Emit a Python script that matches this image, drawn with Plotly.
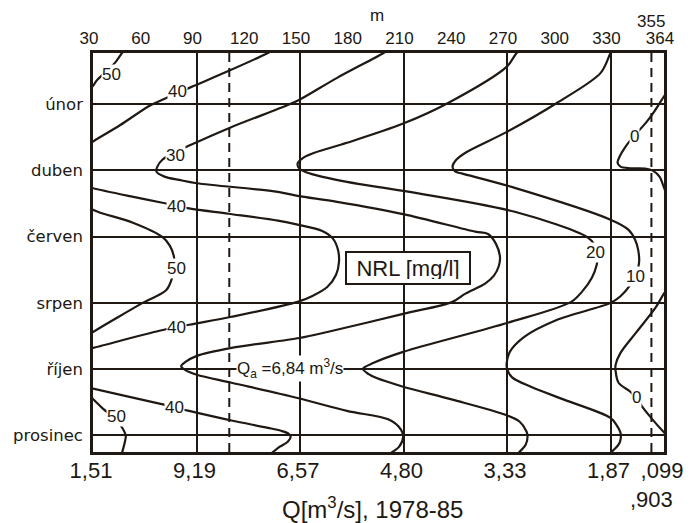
import numpy as np
import plotly.graph_objects as go

INK = "#201812"
NUM_FONT = "Liberation Sans, Arial, sans-serif"
WORD_FONT = "DejaVu Sans, sans-serif"

# ---- axis scale: m-day value -> axis position (last part of axis is compressed in the original)
X_ANCHOR_M = [0, 330, 355, 364, 400]
X_ANCHOR_POS = [0, 330, 353.7, 361.0, 390.2]


def xs(m):
    return np.interp(np.atleast_1d(np.asarray(m, float)), X_ANCHOR_M, X_ANCHOR_POS).tolist()


def x1(m):
    return xs([m])[0]


# ---- tick labels
TOP_TICK_M = [30, 60, 90, 120, 150, 180, 210, 240, 270, 300, 330, 364]
TOP_TICK_TEXT = ["30", "60", "90", "120", "150", "180", "210", "240", "270", "300", "330", "364"]
BOTTOM_TICK_M = [30, 90, 150, 210, 270, 330, 364]
BOTTOM_TICK_TEXT = ["1,51", "9,19", "6,57", "4,80", "3,33", "1,87", ",099"]
MONTH_POS = [2, 4, 6, 8, 10, 12]
MONTH_TEXT = ["únor", "duben", "červen", "srpen", "říjen", "prosinec"]
DASHED_M = [109, 355]

# ---- isolines NRL [mg/l]: month position and m-day value of each traced point
C50_TOP_MONTH = [0.36, 0.46, 0.72, 1.02, 1.27, 1.45, 1.60]
C50_TOP_M = [48.5, 46.8, 43.3, 37.6, 32.5, 30.0, 27.5]
C50_MID_MONTH = [5.13, 5.19, 5.28, 5.58, 6.01, 6.28, 6.58, 6.85, 7.22, 7.61, 8.00, 8.45, 8.88, 8.97]
C50_MID_M = [27.3, 30.0, 34.2, 53.1, 70.2, 74.6, 76.8, 77.3, 76.0, 72.5, 58.8, 43.9, 30.0, 27.3]
C50_LOW_MONTH = [10.80, 10.90, 11.20, 11.49, 11.80, 12.01, 12.19, 12.53]
C50_LOW_M = [27.3, 30.0, 35.9, 42.8, 47.3, 49.0, 48.5, 46.8]

C40_TOP_MONTH = [0.36, 0.46, 0.99, 1.49, 1.87, 2.05, 2.64, 3.13, 3.26]
C40_TOP_M = [134.9, 131.4, 109.1, 86.8, 70.2, 62.8, 45.6, 30.0, 26.2]
C40_MID_MONTH = [4.50, 4.54, 4.78, 4.98, 5.15, 5.31, 5.52, 5.64, 5.83, 6.07, 6.40, 6.76, 7.15,
                 7.52, 7.79, 7.97, 8.42, 8.66, 8.84, 9.36, 9.39]
C40_MID_M = [27.3, 30.0, 51.3, 70.2, 85.7, 108.6, 137.2, 148.6, 162.9, 169.2, 172.0, 172.6, 170.9,
             165.8, 157.2, 148.6, 110.3, 85.7, 68.5, 30.0, 27.3]
C40_LOW_MONTH = [10.56, 10.59, 11.04, 11.15, 11.26, 11.55, 11.77, 11.86, 11.95, 12.04, 12.19, 12.34, 12.55]
C40_LOW_M = [27.3, 30.0, 68.5, 77.1, 85.7, 110.3, 131.4, 139.0, 143.5, 144.6, 142.9, 138.3, 133.2]

C30_MONTH = [0.36, 0.46, 1.21, 1.87, 2.03, 2.72, 3.23, 3.44, 3.68, 3.89, 4.04, 4.19, 4.29, 4.39,
             4.65, 4.77, 4.95, 5.32, 5.85, 5.92, 6.22, 6.61, 6.88, 7.18, 7.42, 7.72, 7.97, 8.33,
             8.88, 9.06, 9.36, 9.60, 9.79, 9.91, 10.02, 10.17, 10.41, 10.87, 11.26, 11.53, 11.83,
             12.04, 12.34, 12.52]
C30_M = [201.2, 198.4, 171.5, 149.7, 142.9, 109.1, 86.8, 78.3, 70.2, 67.3, 66.8, 71.4, 80.0, 90.2,
         137.2, 148.6, 171.5, 209.8, 251.6, 259.0, 263.6, 265.9, 265.3, 262.4, 257.3, 245.9, 238.4,
         209.8, 165.8, 149.7, 110.3, 90.2, 83.4, 81.1, 83.4, 90.2, 110.3, 148.6, 177.2, 201.8,
         208.6, 209.8, 207.5, 202.9]

C20_MONTH = [0.36, 0.46, 0.87, 1.96, 2.59, 3.17, 3.47, 3.62, 3.80, 3.95, 4.10, 4.35, 4.62, 5.25,
             6.01, 6.25, 6.55, 6.85, 7.24, 7.66, 7.97, 8.60, 9.48, 9.81, 9.99, 10.15, 10.27, 10.53,
             10.92, 11.37, 11.58, 11.88, 12.04, 12.28, 12.50, 12.62]
C20_M = [278.5, 275.6, 269.9, 236.1, 209.8, 177.2, 158.3, 152.0, 148.6, 149.7, 156.0, 177.2, 209.8,
         274.5, 316.3, 320.8, 322.6, 322.0, 319.2, 313.5, 307.2, 270.5, 209.8, 192.7, 186.4, 189.8,
         194.4, 209.8, 238.4, 268.7, 277.2, 281.3, 281.9, 280.8, 277.2, 274.9]

C10_MONTH = [0.33, 0.46, 1.06, 1.96, 2.84, 3.47, 3.71, 3.89, 4.04, 4.10, 4.53, 5.49, 5.79, 6.10,
             6.40, 6.76, 7.07, 7.46, 7.80, 8.00, 8.51, 9.02, 9.48, 9.78, 9.96, 10.24, 10.54, 10.92,
             11.47, 11.68, 11.92, 12.13, 12.28, 12.50, 12.62]
C10_M = [331.7, 330.0, 324.3, 299.1, 269.9, 245.9, 240.1, 238.4, 240.1, 244.1, 274.5, 330.0, 340.9,
         345.1, 346.9, 347.5, 346.2, 342.1, 336.1, 330.0, 299.1, 280.2, 271.6, 269.9, 269.9, 272.8,
         284.2, 303.1, 330.0, 333.6, 336.1, 336.1, 334.9, 330.6, 328.3]

C0_TOP_MONTH = [1.57, 1.78, 2.20, 2.57, 2.99, 3.29, 3.59, 3.77, 3.89, 3.94, 3.95, 4.01, 4.20, 4.50, 4.74]
C0_TOP_M = [367.3, 363.8, 357.5, 351.6, 343.9, 339.1, 335.5, 334.3, 336.1, 342.1, 351.2, 356.0,
            360.9, 363.8, 366.0]
C0_LOW_MONTH = [7.55, 7.73, 8.13, 8.90, 9.51, 9.87, 10.05, 10.41, 10.68, 10.87, 11.17, 11.53, 11.90, 12.05]
C0_LOW_M = [367.3, 363.8, 358.2, 345.6, 336.1, 333.1, 333.1, 334.9, 342.1, 345.6, 349.9, 356.0,
            363.8, 367.3]

ISOLINES = [
    (C50_TOP_M, C50_TOP_MONTH), (C50_MID_M, C50_MID_MONTH), (C50_LOW_M, C50_LOW_MONTH),
    (C40_TOP_M, C40_TOP_MONTH), (C40_MID_M, C40_MID_MONTH), (C40_LOW_M, C40_LOW_MONTH),
    (C30_M, C30_MONTH), (C20_M, C20_MONTH), (C10_M, C10_MONTH),
    (C0_TOP_M, C0_TOP_MONTH), (C0_LOW_M, C0_LOW_MONTH),
]

# ---- isoline labels
LABEL_TEXT = ["50", "40", "30", "40", "50", "40", "50", "40", "20", "10", "0", "0"]
LABEL_M = [40.5, 78.8, 77.7, 78.3, 78.3, 78.3, 43.4, 77.1, 321.3, 345.0, 344.5, 345.6]
LABEL_MONTH = [1.12, 1.63, 3.56, 5.10, 6.97, 8.75, 11.43, 11.17, 6.49, 7.21, 2.99, 10.87]

fig = go.Figure()

for m_vals, mo_vals in ISOLINES:
    fig.add_trace(go.Scatter(
        x=xs(m_vals), y=mo_vals, mode="lines",
        line=dict(color=INK, width=2.2, shape="spline", smoothing=0.9),
        hoverinfo="skip", showlegend=False))

# invisible trace to carry the top axis
fig.add_trace(go.Scatter(x=xs([30]), y=[6], xaxis="x2", mode="markers",
                         marker=dict(opacity=0), hoverinfo="skip", showlegend=False))

for m in DASHED_M:
    fig.add_shape(type="line", xref="x", yref="y domain", x0=x1(m), x1=x1(m), y0=0, y1=1,
                  line=dict(color=INK, width=2, dash="9px,6px"), layer="below")

for t, m, mo in zip(LABEL_TEXT, LABEL_M, LABEL_MONTH):
    fig.add_annotation(x=x1(m), y=mo, text=t, showarrow=False, bgcolor="white", borderpad=0,
                       yanchor="middle", font=dict(family=NUM_FONT, size=17, color=INK))

fig.add_annotation(x=x1(212.4), y=6.96, text="NRL [mg/l]", showarrow=False, bgcolor="white",
                   bordercolor=INK, borderwidth=2, borderpad=4, width=114, height=22,
                   yanchor="middle", font=dict(family=NUM_FONT, size=22, color=INK))

fig.add_annotation(x=x1(113.1), y=9.97, xanchor="left", yanchor="middle",
                   text="Q<sub>a</sub> =6,84 m<sup>3</sup>/s",
                   showarrow=False, bgcolor="white", borderpad=0,
                   font=dict(family=NUM_FONT, size=17, color=INK))

fig.add_annotation(x=x1(355), y=1.08, yref="paper", yanchor="middle", text="355", showarrow=False,
                   font=dict(family=NUM_FONT, size=17, color=INK))
fig.add_annotation(x=x1(355), y=-0.119, yref="paper", yanchor="middle", text=",903", showarrow=False,
                   font=dict(family=NUM_FONT, size=22, color=INK))
fig.add_annotation(x=0.498, y=1.095, xref="paper", yref="paper", yanchor="middle", text="m",
                   showarrow=False, font=dict(family=NUM_FONT, size=17, color=INK))
fig.add_annotation(x=0.49, y=-0.14, xref="paper", yref="paper", yanchor="middle",
                   text="Q[m<sup>3</sup>/s], 1978-85", showarrow=False,
                   font=dict(family=NUM_FONT, size=24, color=INK))

XRANGE = [x1(30), x1(364)]

fig.update_layout(
    width=695, height=523,
    margin=dict(l=93, r=24, t=53, b=71),
    paper_bgcolor="white", plot_bgcolor="white",
    showlegend=False,
    xaxis=dict(range=XRANGE, tickvals=xs(BOTTOM_TICK_M), ticktext=BOTTOM_TICK_TEXT,
               showgrid=True, gridcolor=INK, gridwidth=2, zeroline=False,
               showline=True, linecolor=INK, linewidth=2.5, mirror=True, ticks="",
               ticklabelstandoff=-3, ticklabelshift=-2,
               tickfont=dict(family=NUM_FONT, size=22, color=INK)),
    xaxis2=dict(range=XRANGE, overlaying="x", side="top", tickvals=xs(TOP_TICK_M),
                ticktext=TOP_TICK_TEXT, showgrid=False, zeroline=False, showline=False,
                ticks="", ticklabelstandoff=5, ticklabelshift=-4,
                tickfont=dict(family=NUM_FONT, size=17, color=INK)),
    yaxis=dict(range=[12.5, 0.46], tickvals=MONTH_POS, ticktext=MONTH_TEXT,
               showgrid=True, gridcolor=INK, gridwidth=2, zeroline=False,
               showline=True, linecolor=INK, linewidth=2.5, mirror=True, ticks="",
               ticklabelstandoff=4,
               tickfont=dict(family=WORD_FONT, size=16.5, color=INK)),
)

fig.write_html("out.html")
